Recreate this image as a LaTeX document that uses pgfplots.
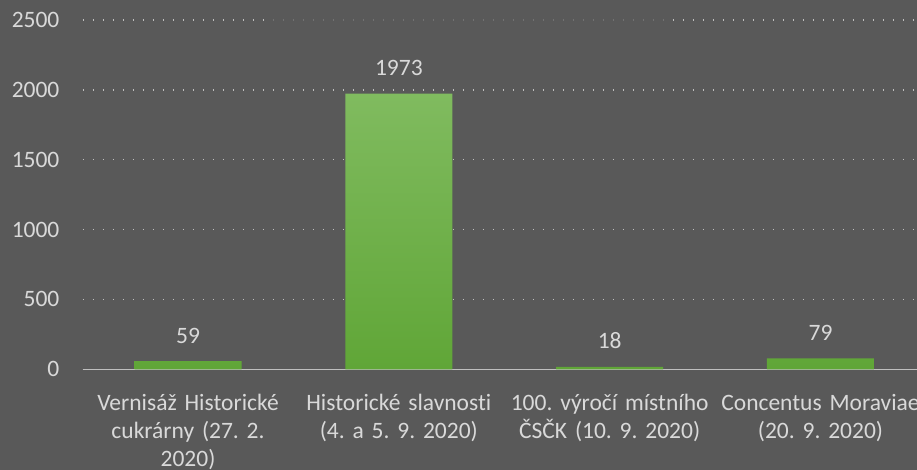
\documentclass[border=0pt]{standalone}
\usepackage{pgfplots}
\pgfplotsset{compat=1.18}
\usepackage{fontspec}
\setmainfont{Carlito}[Ligatures=NoCommon]
\definecolor{bgc}{HTML}{595959}
\definecolor{txt}{HTML}{D9D9D9}
\definecolor{gridc}{HTML}{BFBFBF}
\definecolor{bartop}{HTML}{80BB5F}
\definecolor{barbot}{HTML}{60A637}
\begin{document}
\frenchspacing
\fontsize{23.5}{28}\selectfont
\begin{tikzpicture}
\fill[bgc] (-82.6pt,-100.7pt) rectangle (834.4pt,369.3pt);
\begin{axis}[
  at={(0pt,0pt)}, anchor=south west,
  scale only axis,
  width=843.3pt, height=349.3pt,
  xmin=-0.5, xmax=3.5, ymin=0, ymax=2500,
  ytick={0,500,1000,1500,2000,2500},
  xtick={0,1,2,3},
  xticklabels={
    {\strut Vernisáž Historické\\\strut cukrárny (27. 2.\\\strut 2020)},
    {\strut Historické slavnosti\\\strut (4. a 5. 9. 2020)},
    {\strut 100. výročí místního\\\strut ČSČK (10. 9. 2020)},
    {\strut Concentus Moraviae\\\strut (20. 9. 2020)}},
  major tick length=0pt,
  separate axis lines,
  axis x line*=bottom,
  axis y line*=left,
  y axis line style={draw=none},
  x axis line style={draw=gridc, line width=1.5pt, -},
  ymajorgrids,
  grid style={draw=gridc, line width=1.5pt, dash pattern=on 1.8pt off 8.2pt},
  /pgf/number format/assume math mode=true,
  /pgf/number format/1000 sep={},
  ticklabel style={font=\fontsize{23.5}{28}\selectfont\frenchspacing, text=txt},
  yticklabel style={inner sep=0pt, anchor=east, xshift=-23pt},
  xticklabel style={inner sep=0pt, anchor=north, yshift=-21pt, text width=230pt, align=center},
  ybar, bar width=107pt,
  nodes near coords,
  every node near coord/.append style={font=\fontsize{23.5}{28}\selectfont, text=txt, inner sep=0pt, anchor=south, yshift=17.5pt},
  clip=false,
]
\addplot[draw=none, top color=bartop, bottom color=barbot] coordinates {(0,59) (1,1973) (2,18) (3,79)};
\end{axis}
\fill[bgc, opacity=0.75] (189.4pt,345pt) rectangle (585.4pt,355pt);
\pgfresetboundingbox
\path[use as bounding box] (-82.6pt,-100.7pt) rectangle (834.4pt,369.3pt);
\end{tikzpicture}
\end{document}
